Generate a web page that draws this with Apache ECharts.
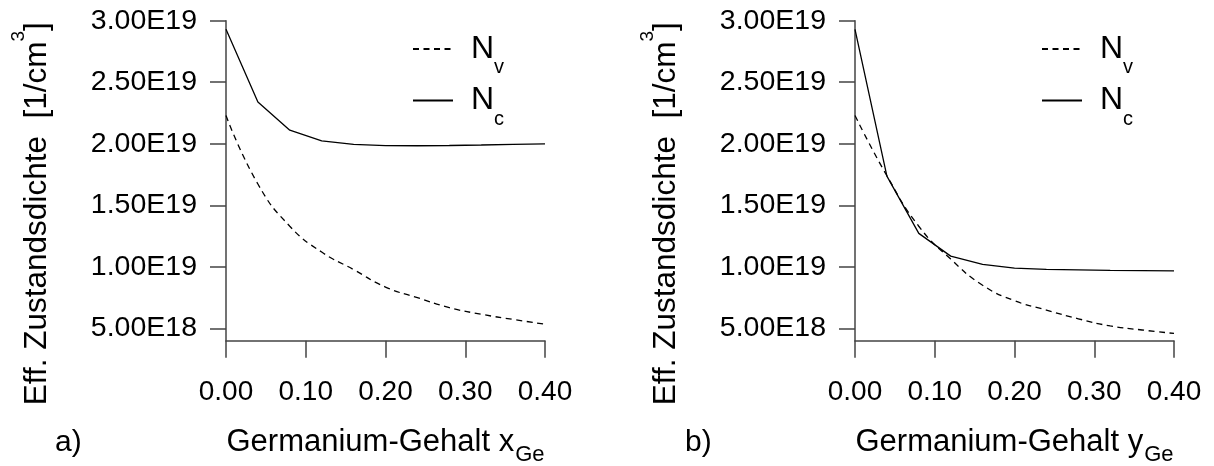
<!DOCTYPE html>
<html>
<head>
<meta charset="utf-8">
<script src="https://cdn.jsdelivr.net/npm/echarts@6/dist/echarts.min.js"></script>
<style>
html,body{margin:0;padding:0;background:#fff;}
#chart{width:1214px;height:466px;}
</style>
</head>
<body>
<div id="chart"></div>
<script>
// ---- data ----
const xValues = [0, 0.04, 0.08, 0.12, 0.16, 0.20, 0.24, 0.28, 0.32, 0.36, 0.40];
const nvA = [2.23e19, 1.673e19, 1.33e19, 1.12e19, 9.78e18, 8.36e18, 7.50e18, 6.69e18, 6.15e18, 5.73e18, 5.34e18];
const ncA = [2.93e19, 2.34e19, 2.11e19, 2.024e19, 1.995e19, 1.985e19, 1.984e19, 1.986e19, 1.99e19, 1.995e19, 2.0e19];
const nvB = [2.23e19, 1.74e19, 1.33e19, 1.063e19, 8.51e18, 7.25e18, 6.49e18, 5.78e18, 5.20e18, 4.87e18, 4.59e18];
const ncB = [2.93e19, 1.737e19, 1.272e19, 1.087e19, 1.02e19, 9.9e18, 9.8e18, 9.76e18, 9.72e18, 9.70e18, 9.68e18];
const yTickValues = [5e18, 1e19, 1.5e19, 2e19, 2.5e19, 3e19];
const xTickValues = [0, 0.1, 0.2, 0.3, 0.4];
const panelLabels = ['a)', 'b)'];
const xNames = ['x', 'y'];

const FONT = '"Liberation Sans", Arial, Helvetica, sans-serif';
function fmtE(v) {
  const e = Math.floor(Math.log10(v) + 1e-9);
  return (v / Math.pow(10, e)).toFixed(2) + 'E' + e;
}
function pairs(xs, ys) { return xs.map((x, i) => [x, ys[i]]); }

const grids = [
  { left: 226, top: 20.7, width: 319, height: 320, containLabel: false, outerBoundsMode: 'none' },
  { left: 855, top: 20.7, width: 319, height: 320, containLabel: false, outerBoundsMode: 'none' }
];
const axisColor = '#444';

const xAxes = grids.map((g, i) => ({
  type: 'value', gridIndex: i, min: 0, max: 0.4, interval: 0.1,
  name: '{m|Germanium-Gehalt ' + xNames[i] + '}{s|Ge}',
  nameLocation: 'middle', nameGap: 79,
  nameTextStyle: {
    color: '#000', fontFamily: FONT,
    rich: {
      m: { fontSize: 31, color: '#000', fontFamily: FONT },
      s: { fontSize: 22, color: '#000', fontFamily: FONT, padding: [24, 0, 0, 1] }
    }
  },
  axisLine: { show: true, onZero: false, lineStyle: { color: axisColor, width: 1.5 } },
  axisTick: { show: true, inside: false, length: 17, customValues: xTickValues, lineStyle: { color: axisColor, width: 1.5 } },
  axisLabel: { color: '#000', fontSize: 28, fontFamily: FONT, margin: 38,
    customValues: xTickValues, formatter: v => v.toFixed(2) },
  splitLine: { show: false }
}));

const yAxes = grids.map((g, i) => ({
  type: 'value', gridIndex: i, min: 4e18, max: 3e19,
  name: '{a|Eff. Zustandsdichte  [1/cm}{p|3}{a|]}',
  nameLocation: 'middle', nameRotate: 90, nameGap: 160,
  nameTextStyle: {
    color: '#000', fontFamily: FONT, padding: [0, 66, 0, 0],
    rich: {
      a: { fontSize: 31.5, color: '#000', fontFamily: FONT },
      p: { fontSize: 19, color: '#000', fontFamily: FONT, padding: [0, 0, 38, 0] }
    }
  },
  axisLine: { show: true, onZero: false, lineStyle: { color: axisColor, width: 1.5 } },
  axisTick: { show: true, inside: false, length: 16, customValues: yTickValues,
    lineStyle: { color: axisColor, width: 1.5 } },
  axisLabel: { color: '#000', fontSize: 28.5, fontFamily: FONT, margin: 29,
    customValues: yTickValues, formatter: v => fmtE(v) },
  splitLine: { show: false }
}));

function lineSeries(name, data, idx, dashed, smooth) {
  return {
    type: 'line', name: name, xAxisIndex: idx, yAxisIndex: idx,
    data: pairs(xValues, data), symbol: 'none', smooth: smooth ? 0.5 : false,
    lineStyle: { color: '#000', width: 1.3, type: dashed ? [6, 4.5] : 'solid' },
    itemStyle: { color: '#000' },
    z: 3
  };
}

const legendRich = {
  n: { fontSize: 32, color: '#000', fontFamily: FONT, padding: [0, 0, 0, 13] },
  s: { fontSize: 20, color: '#000', fontFamily: FONT, padding: [37, 0, 0, 0] }
};
const legends = [412, 1041].map(l => ({
  left: l, top: 33, orient: 'vertical', padding: 0, itemGap: 7,
  itemWidth: 40, itemHeight: 1, selectedMode: false,
  itemStyle: { opacity: 0 },
  data: ['Nv', 'Nc'],
  formatter: n => '{n|N}{s|' + n.slice(1) + '}',
  textStyle: { rich: legendRich }
}));

const option = {
  backgroundColor: '#fff',
  animation: false,
  grid: grids,
  xAxis: xAxes,
  yAxis: yAxes,
  legend: legends,
  series: [
    lineSeries('Nv', nvA, 0, true, true),
    lineSeries('Nc', ncA, 0, false, false),
    lineSeries('Nv', nvB, 1, true, true),
    lineSeries('Nc', ncB, 1, false, false)
  ],
  graphic: [
    { type: 'text', left: 55, top: 428, style: { text: panelLabels[0], fontSize: 30, fontFamily: FONT, fill: '#000' } },
    { type: 'text', left: 685, top: 428, style: { text: panelLabels[1], fontSize: 30, fontFamily: FONT, fill: '#000' } }
  ]
};
const chart = echarts.init(document.getElementById('chart'), null, { renderer: 'canvas' });
chart.setOption(option);
</script>
</body>
</html>
